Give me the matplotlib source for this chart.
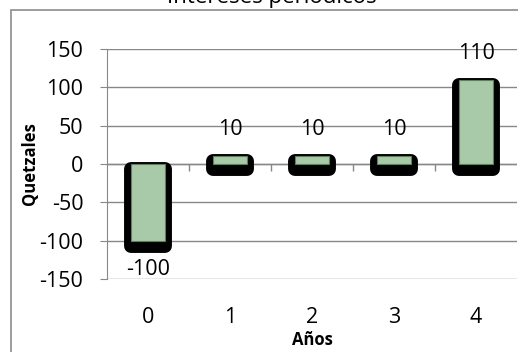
import numpy as np
import matplotlib
matplotlib.use("Agg")
import matplotlib.pyplot as plt
import matplotlib.transforms as mtransforms
from matplotlib.patches import Rectangle

#---Chart data:
years = ["0", "1", "2", "3", "4"]
quetzales = [-100, 10, 10, 10, 110]
y_ticks = [-150, -100, -50, 0, 50, 100, 150]

plt.rcParams['font.family'] = ['Open Sans', 'DejaVu Sans']
grid_col = "#888888"
fs = 15.5

fig = plt.figure(figsize=(5.18, 3.52), dpi=100)
ax = fig.add_axes([107 / 518, 1 - 279 / 352, 410 / 518, 230 / 352])

#---Outer chart frame:
fig.patches.append(Rectangle((11 / 518, -0.1), 1.2, 1 - 10 / 352 + 0.1, transform=fig.transFigure,
                             fill=False, edgecolor="#8c8c8c", linewidth=1.2))

x = np.arange(len(years))
#---Black rounded shadow behind each bar:
shadow_tr = ax.transData + mtransforms.ScaledTranslation(0, -5 / 100, fig.dpi_scale_trans)
shadow = ax.bar(x, quetzales, width=0.42, color="black", edgecolor="black",
                linewidth=10, joinstyle="round", transform=shadow_tr, zorder=3)
#---Green bars:
bars = ax.bar(x, quetzales, width=0.42, color="#a8caa8", edgecolor="#5f7f5f",
              linewidth=0.8, zorder=4)

#---Data labels:
for xi, v in zip(x, quetzales):
    off = 19 if v >= 0 else -21
    ax.annotate(str(v), (xi, v), xytext=(0, off), textcoords="offset points",
                ha="center", va="center", fontsize=fs, zorder=5)

ax.set_xlim(-0.5, len(years) - 0.5)
ax.set_ylim(-150, 150)
ax.set_yticks(y_ticks)
ax.set_yticklabels([str(t) for t in y_ticks])
ax.set_xticks(x)
ax.set_xticklabels(years)
ax.yaxis.grid(True, color=grid_col, linewidth=1.0, zorder=0)
ax.set_axisbelow(True)

#---Axis at zero with tick marks between categories:
ax.axhline(0, color=grid_col, linewidth=1.0, zorder=1)
ax.vlines(x[:-1] + 0.5, -9, 0, color=grid_col, linewidth=1.0, zorder=1)

for s in ["top", "right", "bottom"]:
    ax.spines[s].set_visible(False)
ax.spines["left"].set_color(grid_col)
ax.tick_params(axis="y", length=5, color=grid_col, pad=12, labelsize=fs)
ax.tick_params(axis="x", length=0, pad=20, labelsize=fs)

ax.set_ylabel("Quetzales", fontsize=12, fontweight="bold", labelpad=0)
ax.set_xlabel("Años", fontsize=12, fontweight="bold", labelpad=2)

fig.text(272 / 518, 1 - 3 / 352, "Intereses periódicos", ha="center", va="baseline", fontsize=16)

fig.savefig("out.png", dpi=100)
